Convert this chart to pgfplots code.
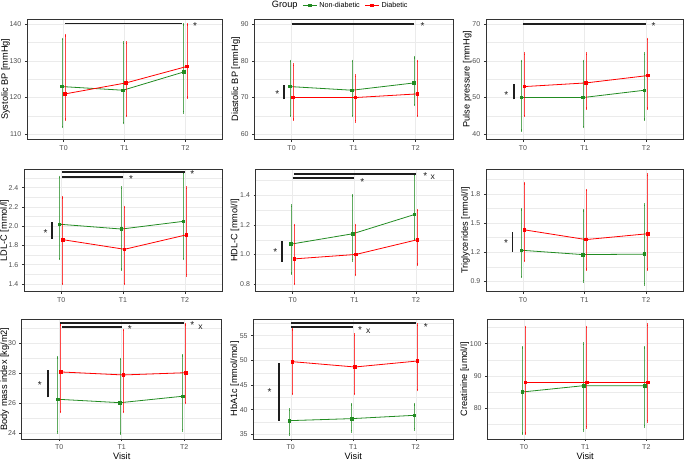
\documentclass[border=0pt]{standalone}
\usepackage{fontspec}
\setmainfont{Liberation Sans}
\usepackage{pgfplots}
\pgfplotsset{compat=1.18}
\definecolor{ndgreen}{RGB}{34,139,34}
\definecolor{dred}{RGB}{255,0,0}
\definecolor{gridc}{RGB}{235,235,235}
\definecolor{framec}{RGB}{51,51,51}
\definecolor{ticklab}{RGB}{77,77,77}
\definecolor{sigc}{RGB}{30,30,30}

\pgfplotsset{
 table/errs/.style={y error plus expr=\thisrow{hi}-\thisrow{y}, y error minus expr=\thisrow{y}-\thisrow{lo}},
 panel/.style={
  scale only axis, anchor=south west, clip=false,
  xmin=-0.6, xmax=2.6, xtick={0,1,2}, xticklabels={T0,T1,T2},
  axis line style={framec, line width=0.55pt},
  tick style={framec, line width=0.55pt},
  major tick length=2.2pt, minor tick length=0pt, tick align=outside,
  tick pos=left,
  xmajorgrids, ymajorgrids, yminorgrids,
  major grid style={gridc, line width=0.55pt},
  minor grid style={gridc, line width=0.3pt},
  tick label style={font=\fontsize{7}{8}\selectfont, text=ticklab},
  label style={font=\fontsize{9.2}{11}\selectfont},
  ylabel style={yshift=-6pt},
  xlabel style={yshift=4pt},
  /pgf/number format/assume math mode=true,
 },
 onedec/.style={yticklabel style={/pgf/number format/.cd, fixed, fixed zerofill, precision=1}},
 nd/.style={ndgreen, line width=0.8pt, mark=square*, mark size=1.3pt,
   error bars/y dir=both, error bars/y explicit,
   error bars/error bar style={line width=0.9pt, opacity=0.72},
   error bars/error mark options={line width=0.9pt, mark size=1.3pt, opacity=0.72}},
 db/.style={dred, line width=0.8pt, mark=square*, mark size=1.3pt,
   error bars/y dir=both, error bars/y explicit,
   error bars/error bar style={line width=0.9pt, opacity=0.72},
   error bars/error mark options={line width=0.9pt, mark size=1.3pt, opacity=0.72}},
 sig/.style={sigc, line width=1.8pt, forget plot, mark=none},
}
\tikzset{
 star/.style={font=\fontsize{10}{12}\selectfont, inner sep=0pt, yshift=-2.3pt, text=sigc},
 xm/.style={font=\fontsize{8.6}{10}\selectfont, inner sep=0pt, text=sigc},
}

\begin{document}
\begin{tikzpicture}
\path[use as bounding box] (0,0) rectangle (685pt,460pt);

% ---------- Row 1 ----------
\begin{axis}[panel, at={(27pt,320.5pt)}, width=195pt, height=120.5pt,
  ymin=108.55, ymax=141.45, ytick={110,120,130,140}, minor ytick={115,125,135},
  ylabel={Systolic BP [mmHg]}, ylabel style={yshift=-1pt}]
\addplot[nd] table[errs]{
x y lo hi
-0.025 123 112 136
0.975 122 113 135
1.975 127 116 140
};
\addplot[db] table[errs]{
x y lo hi
0.025 121 114 137
1.025 124 115 135
2.025 128.5 120 140
};
\addplot[sig] coordinates {(0.02,140.2) (1.94,140.2)};
\node[star] at (axis cs:2.16,140.2) {*};
\end{axis}

\begin{axis}[panel, at={(254.3pt,320.5pt)}, width=198.7pt, height=120.5pt,
  ymin=58.55, ymax=91.45, ytick={60,70,80,90}, minor ytick={65,75,85},
  ylabel={Diastolic BP [mmHg]},
  legend style={at={(0.43,1)}, anchor=south, yshift=7.5pt, draw=none, fill=none,
    legend columns=3, font=\fontsize{7.2}{8}\selectfont, inner sep=0pt,
    /tikz/every even column/.append style={column sep=3pt}},
  legend image code/.code={\draw[mark repeat=2,mark phase=2] plot coordinates {(0pt,0pt) (7pt,0pt) (14pt,0pt)};}]
\addlegendimage{empty legend}
\addlegendentry{\fontsize{9.2}{11}\selectfont Group}
\addplot[nd] table[errs]{
x y lo hi
-0.025 73 65 80
0.975 72 65 80
1.975 74 68 81
};
\addlegendentry{Non-diabetic}
\addplot[db] table[errs]{
x y lo hi
0.025 70 64 79
1.025 70 63.5 76
2.025 71 65 80
};
\addlegendentry{Diabetic}
\addplot[sig] coordinates {(0.0,90.0) (1.97,90.0)};
\addplot[sig] coordinates {(-0.12,69.6) (-0.12,73.4)};
\node[star] at (axis cs:2.11,90.1) {*};
\node[star] at (axis cs:-0.23,71.6) {*};
\end{axis}

\begin{axis}[panel, at={(486pt,320.5pt)}, width=197pt, height=120.5pt,
  ymin=38.55, ymax=71.45, ytick={40,50,60,70}, minor ytick={45,55,65},
  ylabel={Pulse pressure [mmHg]}]
\addplot[nd] table[errs]{
x y lo hi
-0.025 50 41 60
0.975 50 42 60
1.975 52 44 62
};
\addplot[db] table[errs]{
x y lo hi
0.025 53 45 62
1.025 54 47 62
2.025 56 47 66
};
\addplot[sig] coordinates {(0.0,70.1) (2.0,70.1)};
\addplot[sig] coordinates {(-0.15,49.5) (-0.15,53.7)};
\node[star] at (axis cs:2.12,70.1) {*};
\node[star] at (axis cs:-0.27,51.4) {*};
\end{axis}

% ---------- Row 2 ----------
\begin{axis}[panel, onedec, at={(24pt,168.3pt)}, width=198pt, height=122.4pt,
  ymin=1.32, ymax=2.59, ytick={1.4,1.6,1.8,2.0,2.2,2.4}, minor ytick={1.5,1.7,1.9,2.1,2.3,2.5},
  ylabel={LDL-C [mmol/l]}, ylabel style={yshift=-1pt}]
\addplot[nd] table[errs]{
x y lo hi
-0.025 2.02 1.66 2.51
0.975 1.97 1.55 2.40
1.975 2.05 1.66 2.55
};
\addplot[db] table[errs]{
x y lo hi
0.025 1.86 1.40 2.30
1.025 1.76 1.40 2.20
2.025 1.91 1.49 2.40
};
\addplot[sig] coordinates {(0.02,2.559) (2.0,2.559)};
\addplot[sig] coordinates {(0.02,2.514) (1.0,2.514)};
\addplot[sig] coordinates {(-0.146,1.867) (-0.146,2.04)};
\node[star] at (axis cs:2.12,2.56) {*};
\node[star] at (axis cs:1.13,2.51) {*};
\node[star] at (axis cs:-0.25,1.954) {*};
\end{axis}

\begin{axis}[panel, onedec, at={(255.7pt,168.3pt)}, width=197.3pt, height=122.4pt,
  ymin=0.748, ymax=1.576, ytick={0.8,1.0,1.2,1.4}, minor ytick={0.9,1.1,1.3,1.5},
  ylabel={HDL-C [mmol/l]}]
\addplot[nd] table[errs]{
x y lo hi
-0.025 1.07 0.87 1.33
0.975 1.14 0.96 1.40
1.975 1.27 1.10 1.54
};
\addplot[db] table[errs]{
x y lo hi
0.025 0.97 0.80 1.20
1.025 1.00 0.86 1.20
2.025 1.10 0.93 1.30
};
\addplot[sig] coordinates {(0.02,1.544) (2.0,1.544)};
\addplot[sig] coordinates {(0.0,1.517) (1.0,1.517)};
\addplot[sig] coordinates {(-0.17,0.951) (-0.17,1.091)};
\node[star] at (axis cs:2.15,1.546) {*};
\node[xm] at (axis cs:2.27,1.522) {x};
\node[star] at (axis cs:1.13,1.504) {*};
\node[star] at (axis cs:-0.28,1.03) {*};
\end{axis}

\begin{axis}[panel, onedec, at={(486pt,168.3pt)}, width=197pt, height=122.4pt,
  ymin=0.793, ymax=2.054, ytick={0.9,1.2,1.5,1.8}, minor ytick={1.05,1.35,1.65,1.95},
  ylabel={Triglycerides [mmol/l]}]
\addplot[nd] table[errs]{
x y lo hi
-0.025 1.22 0.945 1.64
0.975 1.175 0.90 1.63
1.975 1.18 0.87 1.69
};
\addplot[db] table[errs]{
x y lo hi
0.025 1.43 1.11 1.91
1.025 1.33 1.02 1.84
2.025 1.39 1.02 2.00
};
\addplot[sig] coordinates {(-0.17,1.202) (-0.17,1.412)};
\node[star] at (axis cs:-0.275,1.316) {*};
\end{axis}

% ---------- Row 3 ----------
\begin{axis}[panel, at={(21.7pt,21pt)}, width=200pt, height=120pt,
  ymin=23.62, ymax=31.62, ytick={24,26,28,30}, minor ytick={25,27,29,31},
  ylabel={Body mass index [kg/m2]}, ylabel style={yshift=-1.8pt}, xlabel={Visit}]
\addplot[nd] table[errs]{
x y lo hi
-0.025 26.27 24.07 29.07
0.975 26.04 23.98 28.96
1.975 26.47 24.2 29.2
};
\addplot[db] table[errs]{
x y lo hi
0.025 28.09 25.42 31.27
1.025 27.89 25.42 30.89
2.025 28.04 26.02 31.27
};
\addplot[sig] coordinates {(0.02,31.38) (2.0,31.38)};
\addplot[sig] coordinates {(0.05,31.07) (1.0,31.07)};
\addplot[sig] coordinates {(-0.18,26.4) (-0.18,28.22)};
\node[star] at (axis cs:2.13,31.36) {*};
\node[xm] at (axis cs:2.26,31.09) {x};
\node[star] at (axis cs:1.13,31.07) {*};
\node[star] at (axis cs:-0.31,27.38) {*};
\end{axis}

\begin{axis}[panel, at={(253.3pt,21pt)}, width=200pt, height=120pt,
  ymin=34.05, ymax=58.38, ytick={35,40,45,50,55}, minor ytick={37.5,42.5,47.5,52.5,57.5},
  ylabel={HbA1c [mmol/mol]}, xlabel={Visit}]
\addplot[nd] table[errs]{
x y lo hi
-0.025 37.77 35.0 40.0
0.975 38.18 35.6 41.08
1.975 38.85 36.0 41.08
};
\addplot[db] table[errs]{
x y lo hi
0.025 49.73 43.18 56.28
1.025 48.65 43.18 55.2
2.025 49.86 43.99 57.23
};
\addplot[sig] coordinates {(0.0,57.5) (2.0,57.5)};
\addplot[sig] coordinates {(0.0,56.69) (1.0,56.69)};
\addplot[sig] coordinates {(-0.19,37.7) (-0.19,49.53)};
\node[star] at (axis cs:2.16,57.3) {*};
\node[star] at (axis cs:1.11,56.69) {*};
\node[xm] at (axis cs:1.24,56.0) {x};
\node[star] at (axis cs:-0.34,43.99) {*};
\end{axis}

\begin{axis}[panel, at={(487.3pt,21pt)}, width=195.7pt, height=120pt,
  ymin=70.5, ymax=107.63, ytick={80,90,100}, minor ytick={75,85,95,105},
  ylabel={Creatinine [umol/l]}, xlabel={Visit}]
\addplot[nd] table[errs]{
x y lo hi
-0.025 85.05 72.2 98.87
0.975 87 73.2 100
1.975 87 74.4 98.87
};
\addplot[db] table[errs]{
x y lo hi
0.025 88 72.2 105.15
1.025 88 74.1 105.15
2.025 88 75.98 105.9
};
\end{axis}
\end{tikzpicture}
\end{document}
